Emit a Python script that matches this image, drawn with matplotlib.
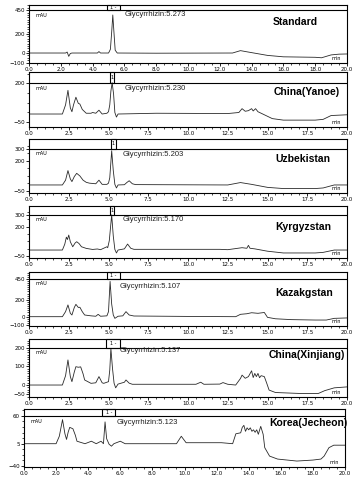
import numpy as np
import matplotlib
matplotlib.use("Agg")
import matplotlib.pyplot as plt
from matplotlib.ticker import AutoMinorLocator
from matplotlib.patches import Rectangle

W, H = 353, 482

# chromatogram traces (retention time in min, signal in mAU)
std_t = [0, 2.3, 2.4, 2.5, 2.6, 2.7, 4.3, 4.4, 4.5, 5.0, 5.05, 5.12, 5.2, 5.27, 5.35, 5.42, 5.55,
         8.0, 12.8, 13.3, 13.8, 15.0, 16.0, 18.0, 18.4, 19.0, 19.5, 20.0]
std_v = [0, 0, 10, -35, -5, 0, 0, 15, 0, 0, 15, 40, 220, 400, 200, 30, 0,
         -2, 0, 25, 10, -25, -40, -45, -50, -20, -12, -10]

yan_t = [0, 2.1, 2.3, 2.45, 2.6, 2.7, 2.8, 2.95, 3.1, 3.2, 3.35, 3.6, 3.9, 4.0, 4.2, 4.4, 4.6, 4.9,
         5.0, 5.08, 5.15, 5.23, 5.32, 5.4, 5.5, 5.6, 8.0, 12.5, 13.2, 13.4, 13.6, 13.8, 14.0, 14.1,
         14.25, 14.4, 14.6, 14.9, 15.3, 16.0, 18.0, 18.5, 19.0, 20.0]
yan_v = [0, 0, 60, 155, 40, 15, 60, 110, 70, 65, 30, 5, 5, 10, 5, 25, 0, 5,
         15, 60, 150, 205, 130, 10, -20, 0, 5, 3, 10, 35, 18, 22, 35, 20,
         35, 15, 5, -10, -30, -40, -40, -35, -10, -5]

uzb_t = [0, 2.1, 2.3, 2.45, 2.6, 2.7, 2.85, 3.0, 3.2, 3.4, 3.6, 3.8, 4.2, 4.4, 4.6, 4.9, 5.0, 5.08,
         5.2, 5.3, 5.4, 5.5, 5.6, 6.0, 6.15, 6.3, 6.5, 6.7, 12.5, 13.3, 14.0, 15.0, 16.0, 18.0,
         18.5, 19.2, 20.0]
uzb_v = [0, 0, 40, 120, 50, 28, 70, 97, 75, 40, 22, 15, 10, 40, 5, 5, 15, 60,
         285, 120, 5, -25, 0, 2, 20, 35, 10, 3, 0, 20, 5, -20, -30, -30,
         -25, 0, 0]

kyr_t = [0, 2.1, 2.25, 2.35, 2.42, 2.5, 2.6, 2.75, 2.9, 3.0, 3.15, 3.3, 3.6, 4.0, 4.3, 4.5, 4.9,
         4.95, 5.05, 5.2, 5.3, 5.4, 5.5, 5.6, 6.0, 6.2, 6.4, 6.6, 12.0, 12.5, 13.4, 13.7, 13.8,
         13.9, 14.2, 15.0, 16.0, 18.0, 18.5, 19.2, 20.0]
kyr_v = [0, 0, 50, 110, 90, 128, 70, 28, 60, 71, 55, 28, 14, 5, 9, 3, 28,
         20, 80, 300, 120, 5, -25, 0, 10, 51, 15, 6, 6, 3, 20, 15, 40,
         15, 10, -10, -25, -25, -20, 0, 0]

kaz_t = [0, 2.1, 2.3, 2.45, 2.6, 2.7, 2.85, 2.95, 3.1, 3.2, 3.35, 3.5, 3.9, 4.2, 4.35, 4.5, 4.9,
         5.0, 5.1, 5.2, 5.3, 5.4, 5.6, 5.9, 6.1, 6.3, 6.6, 10.0, 13.0, 13.3, 13.7, 14.0, 14.4,
         14.8, 15.0, 15.5, 16.5, 18.0, 18.7, 19.2, 20.0]
kaz_v = [0, 0, 60, 140, 40, 20, 110, 147, 110, 112, 60, 20, 10, 5, 28, 5, 10,
         60, 420, 150, 20, -20, 5, 10, 60, 20, 8, 3, 0, 28, 35, 47, 40,
         50, -8, -25, -35, -40, -40, -20, -15]

xin_t = [0, 2.1, 2.3, 2.45, 2.6, 2.7, 2.85, 2.95, 3.1, 3.25, 3.4, 3.5, 3.9, 4.2, 4.4, 4.6, 4.7,
         5.0, 5.08, 5.15, 5.25, 5.35, 5.45, 5.6, 6.0, 6.1, 6.3, 6.5, 10.5, 10.8, 11.0, 12.0, 12.2,
         12.5, 13.0, 13.3, 13.4, 13.6, 13.8, 14.0, 14.1, 14.2, 14.3, 14.4, 14.5, 14.6, 14.8,
         14.95, 15.1, 15.5, 17.0, 18.2, 18.6, 19.2, 20.0]
xin_v = [0, 0, 50, 134, 45, 18, 70, 98, 95, 97, 60, 27, 9, 12, 45, 12, 9,
         18, 80, 196, 90, 10, -15, 5, 15, 27, 10, 4, 4, 15, 4, 5, 13,
         4, 0, 35, 53, 36, 45, 76, 40, 62, 45, 62, 39, 50, 45,
         10, -27, -40, -45, -45, -30, -15, -10]

kor_t = [0, 2.0, 2.2, 2.4, 2.55, 2.65, 2.75, 2.85, 3.05, 3.2, 3.3, 3.8, 4.2, 4.5, 4.8, 4.95, 5.05,
         5.15, 5.3, 5.45, 5.6, 6.0, 6.3, 9.5, 9.8, 10.1, 11.0, 12.3, 13.0, 13.2, 13.5, 13.6, 13.7,
         13.8, 13.9, 14.0, 14.1, 14.2, 14.3, 14.4, 14.5, 14.6, 14.75, 14.9, 15.0, 15.3, 15.8,
         17.0, 18.0, 18.5, 18.7, 19.0, 19.3, 20.0]
kor_v = [5, 5, 20, 53.5, 25, 13.6, 28, 38, 35, 22, 10, 5, 10, 5, 10, 5, 49,
         15, 4, 0, 5, 10, 5, 5, 20, 7, 7, 7, 5, 25, 27, 38, 42,
         30, 37, 33, 37, 30, 33, 28, 33, 24, 40, 24, -3, -20, -26,
         -30, -28, -26, -20, -3, 2, 2]

samples = ["Standard", "China(Yanoe)", "Uzbekistan", "Kyrgyzstan", "Kazakgstan",
           "China(Xinjiang)", "Korea(Jecheon)"]
ret_times = ["5.273", "5.230", "5.203", "5.170", "5.107", "5.137", "5.123"]
yticks = [[450, 200, 0, -100], [200, -50], [300, 200, -50], [300, 200, -50],
          [450, 200, 0, -100], [200, 100, 0, -50], [60, 5, -40]]
xstep = [2.0, 2.5, 2.5, 2.5, 2.5, 2.5, 2.0]
traces = [(std_t, std_v), (yan_t, yan_v), (uzb_t, uzb_v), (kyr_t, kyr_v),
          (kaz_t, kaz_v), (xin_t, xin_v), (kor_t, kor_v)]

# layout in pixels: left, right, top, bottom ; y limits ; peak box
boxes = [(29, 347, 5, 63), (29, 347, 72, 127), (29, 347, 139, 193), (29, 347, 206, 258),
         (29, 347, 272, 326), (29, 347, 339, 397), (24, 345, 409, 467)]
ylims = [(-105, 505), (-85, 275), (-67, 383), (-68, 376), (-111, 532), (-64, 246), (-42, 75)]
pk_box = [(4.9, 5.7, "1 -"), (5.1, 5.35, "1"), (5.15, 5.45, "1"), (5.1, 5.35, "1"),
          (4.9, 5.7, "1 -"), (4.85, 5.7, "1 -"), (4.87, 5.7, "1 -")]
name_x = [273, 274, 275, 275, 275, 269, 269]
name_y = [22, 92, 159, 227, 293, 355, 423]
gly_y = [15, 88, 154, 220, 286, 351, 422]
gly_x = [125, 125, 123, 123, 120, 120, 117]

fig = plt.figure(figsize=(W / 100, H / 100), dpi=100)
line_col = "#2a2a2a"

for i in range(7):
    l, r, t, b = boxes[i]
    ax = fig.add_axes([l / W, 1 - b / H, (r - l) / W, (b - t) / H])
    tt, vv = traces[i]
    ax.plot(tt, vv, color=line_col, lw=0.6)
    ax.set_xlim(0, 20)
    ax.set_ylim(*ylims[i])
    top = yticks[i][0]
    ax.axhline(top, color="black", lw=0.8)
    x0, x1, lab = pk_box[i]
    ax.add_patch(Rectangle((x0, top), x1 - x0, ylims[i][1] - top, fill=False,
                           ec="black", lw=0.8, clip_on=False))
    ax.text((x0 + x1) / 2, (top + ylims[i][1]) / 2, lab, fontsize=3.5,
            ha="center", va="center")

    ax.set_xticks(np.arange(0, 20.01, xstep[i]))
    ax.set_xticklabels([f"{v:.1f}" for v in np.arange(0, 20.01, xstep[i])])
    ax.set_yticks(yticks[i])
    ax.xaxis.set_minor_locator(AutoMinorLocator(5 if xstep[i] == 2.5 else 4))
    ax.yaxis.set_minor_locator(AutoMinorLocator(4))
    ax.tick_params(labelsize=4, length=2, width=0.6, pad=1)
    ax.tick_params(which="minor", length=1.2, width=0.5)
    for s in ax.spines.values():
        s.set_linewidth(0.8)

    # mAU label just under the header line, "min" at lower right
    ax.text(0.4, top - (ylims[i][1] - ylims[i][0]) * 0.04, "mAU", fontsize=3.5,
            ha="left", va="top")
    ax.text(19.6, ylims[i][0] + (ylims[i][1] - ylims[i][0]) * 0.04, "min",
            fontsize=3.5, ha="right", va="bottom")

    fig.text(gly_x[i] / W, 1 - gly_y[i] / H, "Glycyrrhizin:" + ret_times[i],
             fontsize=5.5, family="Liberation Sans", ha="left", va="center",
             color="#222222")
    fig.text(name_x[i] / W, 1 - name_y[i] / H, samples[i], fontsize=7.5,
             family="Liberation Sans", fontweight="bold", ha="left", va="center")

fig.savefig("out.png", dpi=100)
